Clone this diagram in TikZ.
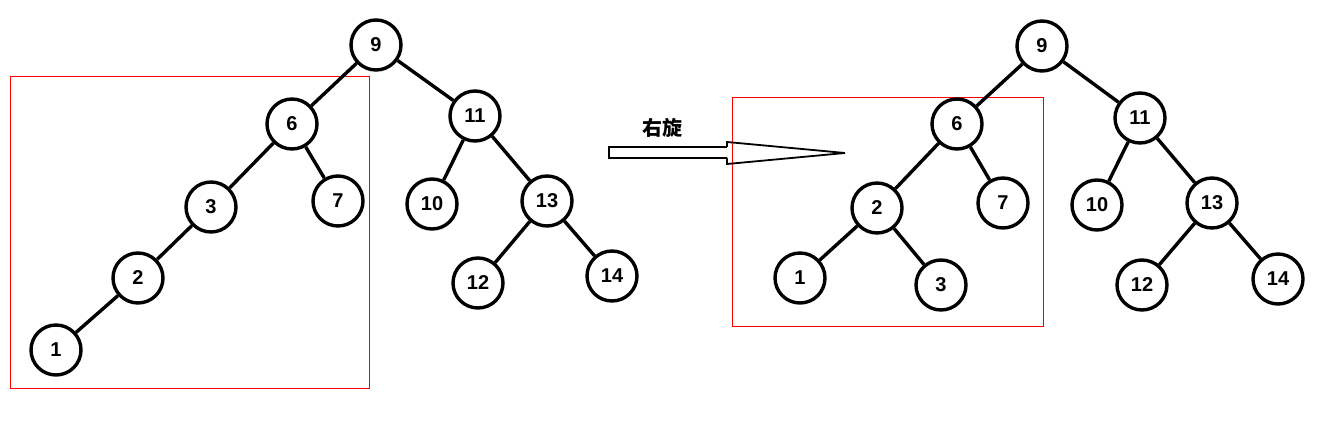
\documentclass[tikz,border=0pt]{standalone}
\usepackage{fontspec}
\setmainfont{Liberation Sans}
\newfontfamily\cjk{Noto Sans CJK SC}
\begin{document}
\begin{tikzpicture}[x=1pt,y=-1pt,
  nd/.style={circle,draw,line width=3.4pt,minimum size=50pt,inner sep=0pt,fill=white,font=\bfseries\fontsize{20}{20}\selectfont},
  ed/.style={line width=3.4pt},
  box/.style={draw=red,line width=0.8pt}]
\useasboundingbox (0,0) rectangle (1333,430);
\draw[box] (10,76) rectangle (369,388);
\draw[box] (732,97) rectangle (1043,326);
% left tree
\node[nd] (a9) at (376,45) {9};
\node[nd] (a6) at (292,124) {6};
\node[nd] (a11) at (475,116) {11};
\node[nd] (a3) at (211,207) {3};
\node[nd] (a7) at (338,201) {7};
\node[nd] (a10) at (432,204) {10};
\node[nd] (a13) at (547,201) {13};
\node[nd] (a2) at (138,278) {2};
\node[nd] (a12) at (478,283) {12};
\node[nd] (a14) at (612,276) {14};
\node[nd] (a1) at (56,350) {1};
\foreach \p/\c in {a9/a6,a9/a11,a6/a3,a6/a7,a11/a10,a11/a13,a3/a2,a2/a1,a13/a12,a13/a14}
  \draw[ed] (\p) -- (\c);
% right tree
\node[nd] (b9) at (1042,46) {9};
\node[nd] (b6) at (957,124) {6};
\node[nd] (b11) at (1140,118) {11};
\node[nd] (b2) at (877,208) {2};
\node[nd] (b7) at (1003,203) {7};
\node[nd] (b10) at (1097,205) {10};
\node[nd] (b13) at (1212,203) {13};
\node[nd] (b1) at (800,278) {1};
\node[nd] (b3) at (941,285) {3};
\node[nd] (b12) at (1142,285) {12};
\node[nd] (b14) at (1278,279) {14};
\foreach \p/\c in {b9/b6,b9/b11,b6/b2,b6/b7,b11/b10,b11/b13,b2/b1,b2/b3,b13/b12,b13/b14}
  \draw[ed] (\p) -- (\c);
% arrow
\draw[line width=2.6pt] (727,147) -- (609,147) -- (609,158) -- (727,158);
\draw[line width=1.8pt,line join=miter] (727,147) -- (727,142) -- (845,153) -- (727,164) -- (727,158);
\node (lbl) at (662,128) {\cjk\bfseries\fontsize{20}{20}\selectfont 右旋};
\end{tikzpicture}
\end{document}
